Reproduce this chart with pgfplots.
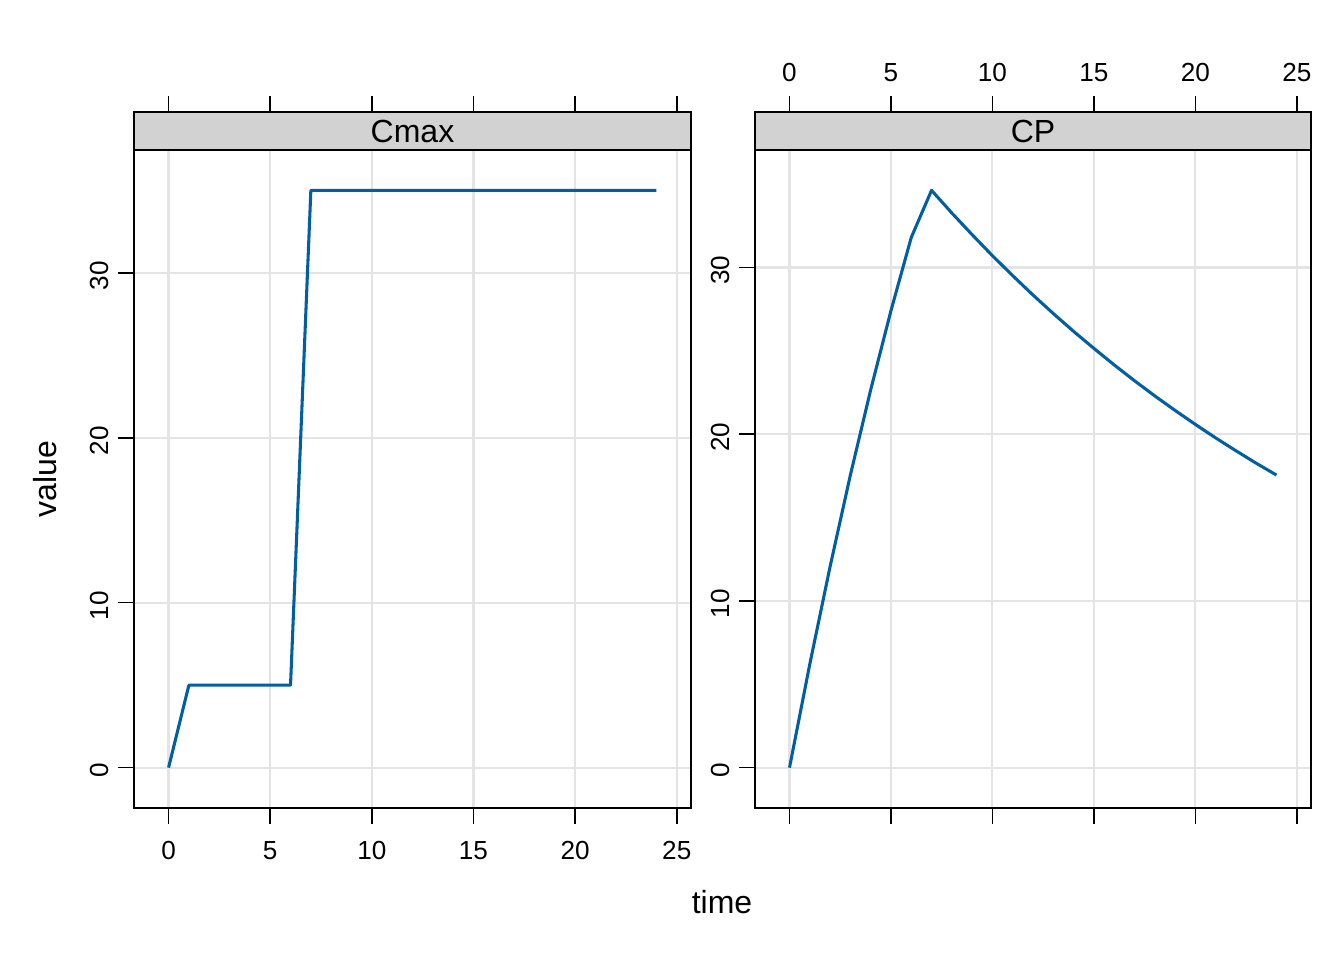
\documentclass[border=0pt]{standalone}
\usepackage{fontspec}
\setmainfont{Liberation Sans}
\usepackage{pgfplots}
\pgfplotsset{compat=1.18}

\definecolor{linecol}{RGB}{0,94,164}
\definecolor{gridcol}{RGB}{228,228,228}
\definecolor{stripcol}{RGB}{210,210,210}

% hourly values of the two series
\pgfplotstableread{
t  cmax  cp
0  0     0
1  5     6.21
2  5     12.06
3  5     17.55
4  5     22.66
5  5     27.41
6  5     31.80
7  35    34.63
8  35    33.27
9  35    31.97
10 35    30.71
11 35    29.51
12 35    28.35
13 35    27.24
14 35    26.17
15 35    25.15
16 35    24.16
17 35    23.21
18 35    22.30
19 35    21.43
20 35    20.59
21 35    19.78
22 35    19.01
23 35    18.26
24 35    17.55
}\datatab

\pgfplotsset{
  panel/.style={
    scale only axis, height=261pt,
    xmin=-1.7, xmax=25.7,
    xtick={0,5,...,25}, ytick={0,10,20,30},
    tick align=outside, major tick length=5.9pt,
    every tick/.style={black, line width=0.6pt},
    axis line style={line width=0.6pt},
    grid=major, major grid style={gridcol, line width=0.8pt},
    ytick pos=left,
    yticklabel style={rotate=90, anchor=south, xshift=-1.1pt},
    /pgf/number format/assume math mode=true,
    ticklabel style={font=\fontsize{9.8}{11}\selectfont},
  },
  curve/.style={linecol, line width=1.15pt, line join=round, no marks},
}

\begin{document}
\begin{tikzpicture}
\useasboundingbox (0,0) rectangle (504pt,360pt);

% left panel: Cmax
\begin{axis}[panel, at={(50.25pt,57pt)}, anchor=south west, width=208.875pt,
    ymin=-2.45, ymax=39.754,
    xticklabel pos=lower, xtick pos=both,
    xticklabel style={yshift=-3pt}]
\addplot[curve] table[x=t, y=cmax] {\datatab};
\draw[fill=stripcol, line width=0.6pt] (axis cs:-1.7,37.45) rectangle (axis cs:25.7,39.754);
\node[font=\fontsize{12}{14}\selectfont] at (axis cs:12,38.602) {Cmax};
\end{axis}

% right panel: CP
\begin{axis}[panel, at={(283.125pt,57pt)}, anchor=south west, width=208.5pt,
    ymin=-2.42, ymax=39.329,
    xticklabel pos=upper, xtick pos=both,
    xticklabel style={yshift=2pt}]
\addplot[curve] table[x=t, y=cp] {\datatab};
\draw[fill=stripcol, line width=0.6pt] (axis cs:-1.7,37.05) rectangle (axis cs:25.7,39.329);
\node[font=\fontsize{12}{14}\selectfont] at (axis cs:12,38.19) {CP};
\end{axis}

\node[font=\fontsize{12}{14}\selectfont] at (270.75pt,21.75pt) {time};
\node[font=\fontsize{12}{14}\selectfont, rotate=90] at (16.875pt,180.375pt) {value};
\end{tikzpicture}
\end{document}
